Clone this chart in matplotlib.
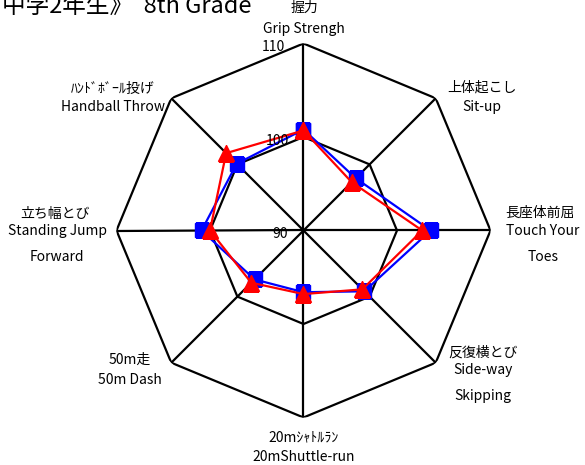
import numpy as np
import matplotlib.pyplot as plt

plt.rcParams['font.family'] = ['Noto Sans CJK JP', 'DejaVu Sans']

# axes clockwise from top
labels_jp = ['握力', '上体起こし', '長座体前屈', '反復横とび',
             '20mｼｬﾄﾙﾗﾝ', '50m走', '立ち幅とび', 'ﾊﾝﾄﾞﾎﾞｰﾙ投げ']
labels_en = ['Grip Strengh', 'Sit-up', 'Touch Your\nToes', 'Side-way\nSkipping',
             '20mShuttle-run', '50m Dash', 'Standing Jump\nForward', 'Handball Throw']
blue_vals = [100.8, 97.9, 103.6, 99.2, 96.6, 97.4, 100.9, 100.1]
red_vals = [100.7, 97.3, 102.7, 98.9, 96.8, 97.9, 100.0, 101.7]
rings = [100, 110]
r_min, r_max = 90, 110

W, H = 585, 465
fig = plt.figure(figsize=(W / 100, H / 100), dpi=100)

# centre at (303.5, 230.5) px, radius 187 px
cx, cy, R = 303.5, 230.5, 187
ax = fig.add_axes([(cx - R) / W, (H - cy - R) / H, 2 * R / W, 2 * R / H],
                  projection='polar')
ax.set_theta_zero_location('N')
ax.set_theta_direction(-1)
ax.set_ylim(r_min, r_max)
ax.axis('off')

n = len(labels_jp)
theta = np.arange(n) * 2 * np.pi / n
closed = np.append(theta, theta[0])

# spokes and rings
for t in theta:
    ax.plot([t, t], [r_min, r_max], color='black', lw=1.6, zorder=1)
for r in rings:
    ax.plot(closed, [r] * (n + 1), color='black', lw=1.6, zorder=1)

ax.plot(closed, blue_vals + blue_vals[:1], color='blue', lw=1.6,
        marker='s', markersize=10, zorder=3)
ax.plot(closed, red_vals + red_vals[:1], color='red', lw=1.6,
        marker='^', markersize=11, zorder=4)

# tick values
for r, (px, py) in zip([110, 100, 90], [(273, 47), (277, 141), (280, 234)]):
    fig.text(px / W, 1 - py / H, str(r), ha='center', va='center', fontsize=10)


def put(x, y, s, size=9.5):
    fig.text(x / W, 1 - y / H, s, ha='center', va='center', fontsize=size,
             linespacing=2.1)


jp_pos = [(304, 8), (482, 88), (540, 213), (483, 353),
          (304, 437), (130, 360), (55, 214), (113, 89)]
en_pos = [(304, 29), (482, 107), (543, 244), (483, 383),
          (304, 457), (130, 380), (57, 244), (113, 107)]
for s, (px, py) in zip(labels_jp, jp_pos):
    put(px, py, s, 10)
for s, (px, py) in zip(labels_en, en_pos):
    put(px, py, s, 10)

fig.text(2 / W, 1 - 13 / H, '中学2年生》  8th Grade', ha='left', va='baseline',
         fontsize=17)

fig.savefig('out.png', dpi=100)
